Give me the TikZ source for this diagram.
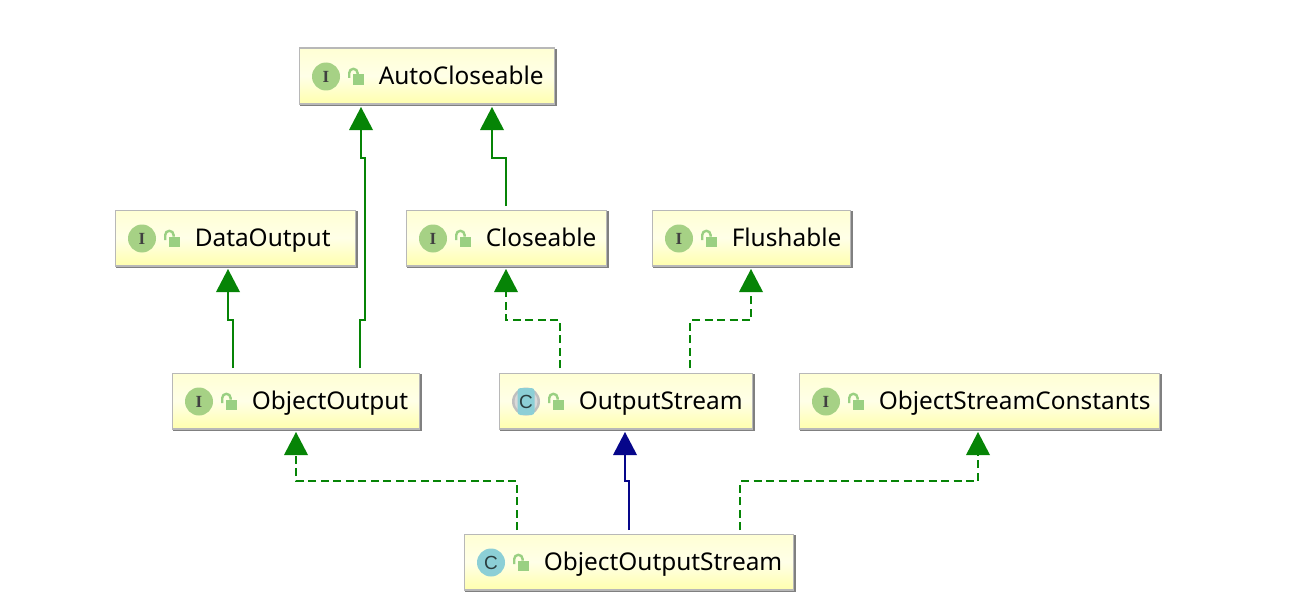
\documentclass[tikz,border=0pt]{standalone}
\usepackage{fontspec}
\setmainfont{Noto Sans}
\usetikzlibrary{arrows.meta}
\definecolor{edgegreen}{HTML}{068406}
\definecolor{edgenavy}{HTML}{06068A}
\definecolor{iconI}{HTML}{A6D185}
\definecolor{iconC}{HTML}{8CCFD6}
\definecolor{lockgreen}{HTML}{9AD082}
\definecolor{boxtop}{HTML}{FFFFD4}
\definecolor{boxbot}{HTML}{FFFFAE}
\tikzset{
  umlbox/.style={draw=black!28,line width=1.5pt,top color=boxtop,bottom color=boxbot,middle color=boxtop!55!white,
    inner sep=0pt,minimum height=#1,anchor=north west,font=\fontsize{24.4}{28}\selectfont,text=black},
  shadowbox/.style={fill=black!50,draw=none},
  extends/.style={line width=1.8pt,draw=edgegreen,-{Triangle[width=24pt,length=23pt,fill=edgegreen,line width=0pt]}},
  implements/.style={extends,dash pattern=on 8pt off 4.5pt},
  classext/.style={line width=1.8pt,draw=edgenavy,-{Triangle[width=24pt,length=23pt,fill=edgenavy,line width=0pt]}},
  kindletter/.style={inner sep=0pt,text=black!75,font=\fontsize{17}{17}\selectfont},
  kindC/.style={inner sep=0pt,text=black!70!iconC,font=\fontsize{19}{19}\selectfont},
}
% lock icon at centre (#1,#2)
\newcommand{\lockicon}[2]{%
  \fill[lockgreen] (#1-3,#2-1.5) rectangle (#1+8,#2+9);
  \draw[lockgreen,line width=2.4pt] (#1-6.8,#2+2) -- (#1-6.8,#2-3) arc[start angle=180,end angle=0,x radius=4.2,y radius=-4.2] -- (#1+1.6,#2-1.5);
}
% name, left, top, right, bottom, text
\newcommand{\ubox}[6]{%
  \fill[shadowbox] (#2+1,#3+1) rectangle (#4+2,#5+2);
  \node[umlbox=#5pt-#3pt-0.5pt,minimum width=#4pt-#2pt-1pt] (#1) at (#2-0.5,#3-0.5) {\raisebox{-8.5pt}[0pt][0pt]{\makebox[\dimexpr#4pt-#2pt-1pt\relax][l]{\hspace{79.5pt}#6}}};
  \lockicon{#2+57}{#3+28}
}
\newcommand{\iconI}[3]{%
  \node[circle,fill=iconI,minimum size=28pt,inner sep=0pt,kindletter] (#3) at (#1+27,#2+28.5) {\fontspec{Liberation Serif}\bfseries I};
}
\newcommand{\iconC}[3]{%
  \node[circle,fill=iconC,minimum size=28pt,inner sep=0pt,kindC] (#3) at (#1+27,#2+28.5) {\fontspec{Liberation Sans}C};
}
\begin{document}
\begin{tikzpicture}[x=1pt,y=-1pt]
\useasboundingbox[fill=white] (0,0) rectangle (1307,610);
\ubox{auto}{299}{48}{555}{104}{AutoCloseable}
\iconI{299}{48}{autoI}
\ubox{data}{115}{210}{356}{266}{DataOutput}
\iconI{115}{210}{dataI}
\ubox{close}{406}{210}{607}{266}{Closeable}
\iconI{406}{210}{closeI}
\ubox{flush}{652}{210}{851}{266}{Flushable}
\iconI{652}{210}{flushI}
\ubox{oo}{172}{373}{420}{429}{ObjectOutput}
\iconI{172}{373}{ooI}
\ubox{os}{499}{373}{753}{429}{OutputStream}
\node[circle,fill=black!25,minimum size=28pt,inner sep=0pt] (osring) at (526,401.5) {};
\node[circle,fill=white!85!black,minimum size=23pt,inner sep=0pt] (oshole) at (526,401.5) {};
\node[rectangle,fill=iconC,rounded corners=3pt,minimum width=17pt,minimum height=27pt,inner sep=0pt,kindC] (osC) at (526,401.5) {\fontspec{Liberation Sans}C};
\ubox{osc}{799}{373}{1160}{429}{ObjectStreamConstants}
\iconI{799}{373}{oscI}
\ubox{oos}{464}{534}{794}{590}{ObjectOutputStream}
\iconC{464}{534}{oosC}
% connectors
\path (oo.north west) ++(188.5,-4.5) coordinate (a1) (auto.south west) ++(62.5,2.5) coordinate (b1);
\draw[extends] (a1) -- ++(0,-48) -- ++(5,0) -- ++(0,-162) -- ++(-4,0) -- (b1);
\path (close.north west) ++(100.5,-3.5) coordinate (a2) (auto.south west) ++(193.5,2.5) coordinate (b2);
\draw[extends] (a2) -- ++(0,-48) -- ++(-14,0) -- (b2);
\path (oo.north west) ++(61.5,-4.5) coordinate (a3) (data.south west) ++(113.5,2.5) coordinate (b3);
\draw[extends] (a3) -- ++(0,-48) -- ++(-5,0) -- (b3);
\path (os.north west) ++(61.5,-4.5) coordinate (a4) (close.south west) ++(100.5,2.5) coordinate (b4);
\draw[implements] (a4) -- ++(0,-48) -- ++(-54,0) -- (b4);
\path (os.north west) ++(191.5,-4.5) coordinate (a5) (flush.south west) ++(99.5,2.5) coordinate (b5);
\draw[implements] (a5) -- ++(0,-48) -- ++(61,0) -- (b5);
\path (oos.north west) ++(53.5,-3.5) coordinate (a6) (oo.south west) ++(124.5,2.5) coordinate (b6);
\draw[implements] (a6) -- ++(0,-49) -- ++(-221,0) -- (b6);
\path (oos.north west) ++(165.5,-3.5) coordinate (a7) (os.south west) ++(126.5,2.5) coordinate (b7);
\draw[classext] (a7) -- ++(0,-49) -- ++(-4,0) -- (b7);
\path (oos.north west) ++(276.5,-3.5) coordinate (a8) (osc.south west) ++(179.5,2.5) coordinate (b8);
\draw[implements] (a8) -- ++(0,-49) -- ++(238,0) -- (b8);
\end{tikzpicture}
\end{document}
